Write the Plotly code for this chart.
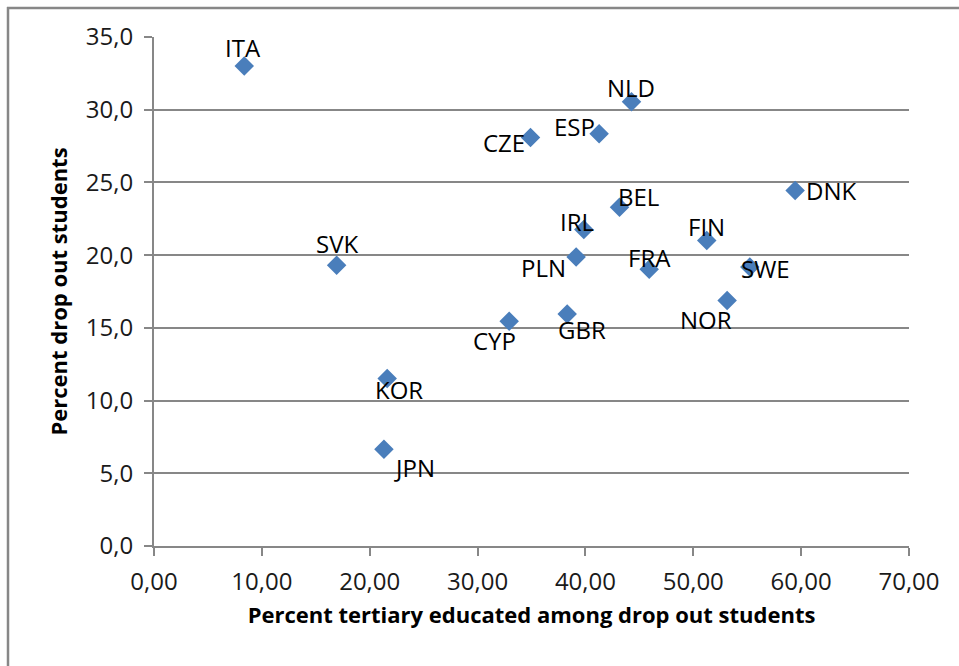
import plotly.graph_objects as go

# Country codes with tertiary-educated share and drop-out share
countries = ["ITA", "SVK", "KOR", "JPN", "CYP", "CZE", "GBR", "PLN", "IRL",
             "ESP", "BEL", "NLD", "FRA", "FIN", "NOR", "SWE", "DNK"]
tertiary_pct = [8.37, 16.93, 21.62, 21.32, 32.93, 34.91, 38.31, 39.14, 39.85,
                41.27, 43.16, 44.27, 45.91, 51.25, 53.14, 55.24, 59.44]
dropout_pct = [33.0, 19.3, 11.51, 6.65, 15.45, 28.09, 15.96, 19.88, 21.76,
               28.34, 23.29, 30.54, 19.03, 21.0, 16.88, 19.19, 24.44]

# Label placement around each marker (pixel offsets: right, down)
label_offsets = {
    "ITA": (-1, -19), "SVK": (0, -22), "NLD": (0, -14), "ESP": (-25, -7),
    "CZE": (-27, 5), "DNK": (36, 0), "BEL": (19, -11), "IRL": (-7, -8),
    "FIN": (0, -14), "PLN": (-33, 11), "FRA": (0, -12), "SWE": (16, 2),
    "NOR": (-21, 19), "GBR": (15, 16), "CYP": (-15, 19), "KOR": (12, 11),
    "JPN": (31, 18),
}

FONT = "Open Sans"
GREY = "#878787"
BLUE = "#4A7EBB"

fig = go.Figure()
fig.add_trace(go.Scatter(
    x=tertiary_pct, y=dropout_pct, mode="markers",
    marker=dict(symbol="diamond", size=15, color=BLUE, line=dict(width=0)),
    hoverinfo="text", text=countries, showlegend=False,
))

for name, xv, yv in zip(countries, tertiary_pct, dropout_pct):
    dx, dy = label_offsets[name]
    fig.add_annotation(x=xv, y=yv, text=name, showarrow=False,
                       xshift=dx, yshift=-dy,
                       font=dict(family=FONT, size=24, color="#000000"))

L, R, T, B = 154, 50, 37, 120
W, H = 959, 666
pw, ph = W - L - R, H - T - B

def px_x(p):
    return (p - L) / pw

def px_y(p):
    return (H - B - p) / ph

# Chart frame (left and top edges)
fig.add_shape(type="line", xref="paper", yref="paper",
              x0=px_x(8), y0=px_y(7), x1=px_x(8), y1=px_y(700),
              line=dict(color=GREY, width=2.5))
fig.add_shape(type="line", xref="paper", yref="paper",
              x0=px_x(7), y0=px_y(8), x1=px_x(1000), y1=px_y(8),
              line=dict(color=GREY, width=2.5))

fig.update_layout(
    width=W, height=H,
    margin=dict(l=L, r=R, t=T, b=B, pad=0),
    paper_bgcolor="white", plot_bgcolor="white",
    separators=",.",
    font=dict(family=FONT, color="#000000"),
    xaxis=dict(
        range=[0, 70], dtick=10, tick0=0, tickformat=".2f",
        showgrid=False, zeroline=False,
        showline=True, linecolor=GREY, linewidth=2,
        ticks="outside", ticklen=8, tickwidth=2, tickcolor=GREY,
        tickfont=dict(family=FONT, size=24, color="#1a1a1a"),
        ticklabelstandoff=5,
        title=dict(text="<b>Percent tertiary educated among drop out students</b>",
                   font=dict(family=FONT, size=22, color="#000000"), standoff=12),
    ),
    yaxis=dict(
        range=[0, 35], dtick=5, tick0=0, tickformat=".1f",
        showgrid=True, gridcolor=GREY, gridwidth=2, zeroline=False,
        showline=True, linecolor=GREY, linewidth=2,
        ticks="outside", ticklen=8, tickwidth=2, tickcolor=GREY,
        tickfont=dict(family=FONT, size=24, color="#1a1a1a"),
        ticklabelstandoff=6,
        title=dict(text="<b>Percent drop out students</b>",
                   font=dict(family=FONT, size=22, color="#000000"), standoff=12),
    ),
)

fig.write_html("out.html")
